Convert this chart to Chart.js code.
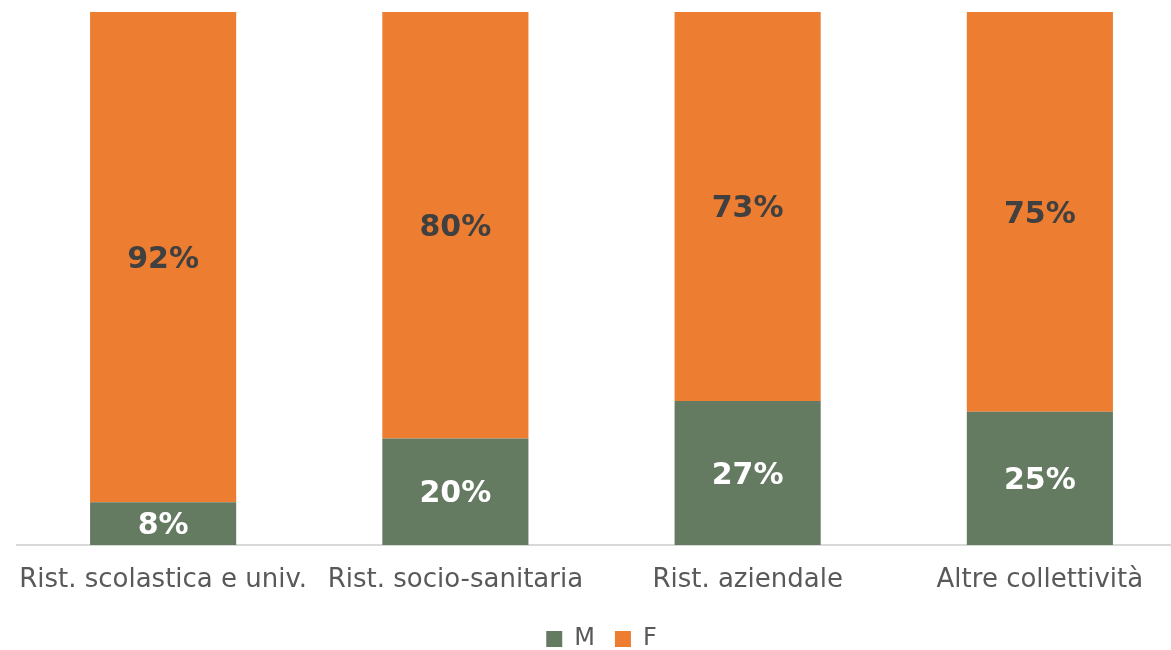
<!DOCTYPE html>
<html>
<head>
<meta charset="utf-8">
<script src="https://cdn.jsdelivr.net/npm/chart.js@4"></script>
<style>
  html, body { margin: 0; padding: 0; background: #fff; overflow: hidden; }
  #wrap { width: 1186px; height: 661px; position: relative; }
</style>
</head>
<body>
<div id="wrap"><canvas id="graficoGenere"></canvas></div>
<script>
const categorie = ['Rist. scolastica e univ.', 'Rist. socio-sanitaria', 'Rist. aziendale', 'Altre collettività'];
const valoriM = [8, 20, 27, 25];
const valoriF = [92, 80, 73, 75];

const coloreM = '#647b62';
const coloreF = '#ed7d31';

// etichette dentro le barre
const etichette = {
    id: 'etichette',
    afterDatasetsDraw(chart) {
        const ctx = chart.ctx;
        ctx.save();
        ctx.font = 'bold 30px "DejaVu Sans"';
        ctx.textAlign = 'center';
        ctx.textBaseline = 'middle';
        chart.data.datasets.forEach((ds, i) => {
            const meta = chart.getDatasetMeta(i);
            ctx.fillStyle = i === 0 ? '#ffffff' : '#404040';
            meta.data.forEach((bar, j) => {
                const yc = (bar.y + bar.base) / 2 + 3;
                ctx.fillText(ds.data[j] + '%', bar.x, yc);
            });
        });
        ctx.restore();
    }
};

const ctx = document.getElementById('graficoGenere').getContext('2d');
const grafico = new Chart(ctx, {
    type: 'bar',
    data: {
        labels: categorie,
        datasets: [
            { label: 'M', data: valoriM, backgroundColor: coloreM, categoryPercentage: 1, barPercentage: 0.5 },
            { label: 'F', data: valoriF, backgroundColor: coloreF, categoryPercentage: 1, barPercentage: 0.5 }
        ]
    },
    options: {
        responsive: true,
        maintainAspectRatio: false,
        animation: false,
        layout: { padding: { left: 17, right: 0, top: 12, bottom: 0 } },
        plugins: {
            tooltip: { enabled: false },
            legend: {
                position: 'bottom',
                labels: {
                    color: '#595959',
                    font: { family: 'DejaVu Sans', size: 24 },
                    boxWidth: 16,
                    boxHeight: 16,
                    padding: 20
                }
            }
        },
        scales: {
            x: {
                stacked: true,
                grid: { display: false },
                border: { color: '#d9d9d9', width: 2 },
                ticks: {
                    color: '#595959',
                    font: { family: 'DejaVu Sans', size: 26 },
                    maxRotation: 0,
                    padding: 12
                },
                afterFit(scale) { scale.height = 62; }
            },
            y: {
                stacked: true,
                display: false,
                min: 0,
                max: 100
            }
        }
    },
    plugins: [etichette]
});
</script>
</body>
</html>
